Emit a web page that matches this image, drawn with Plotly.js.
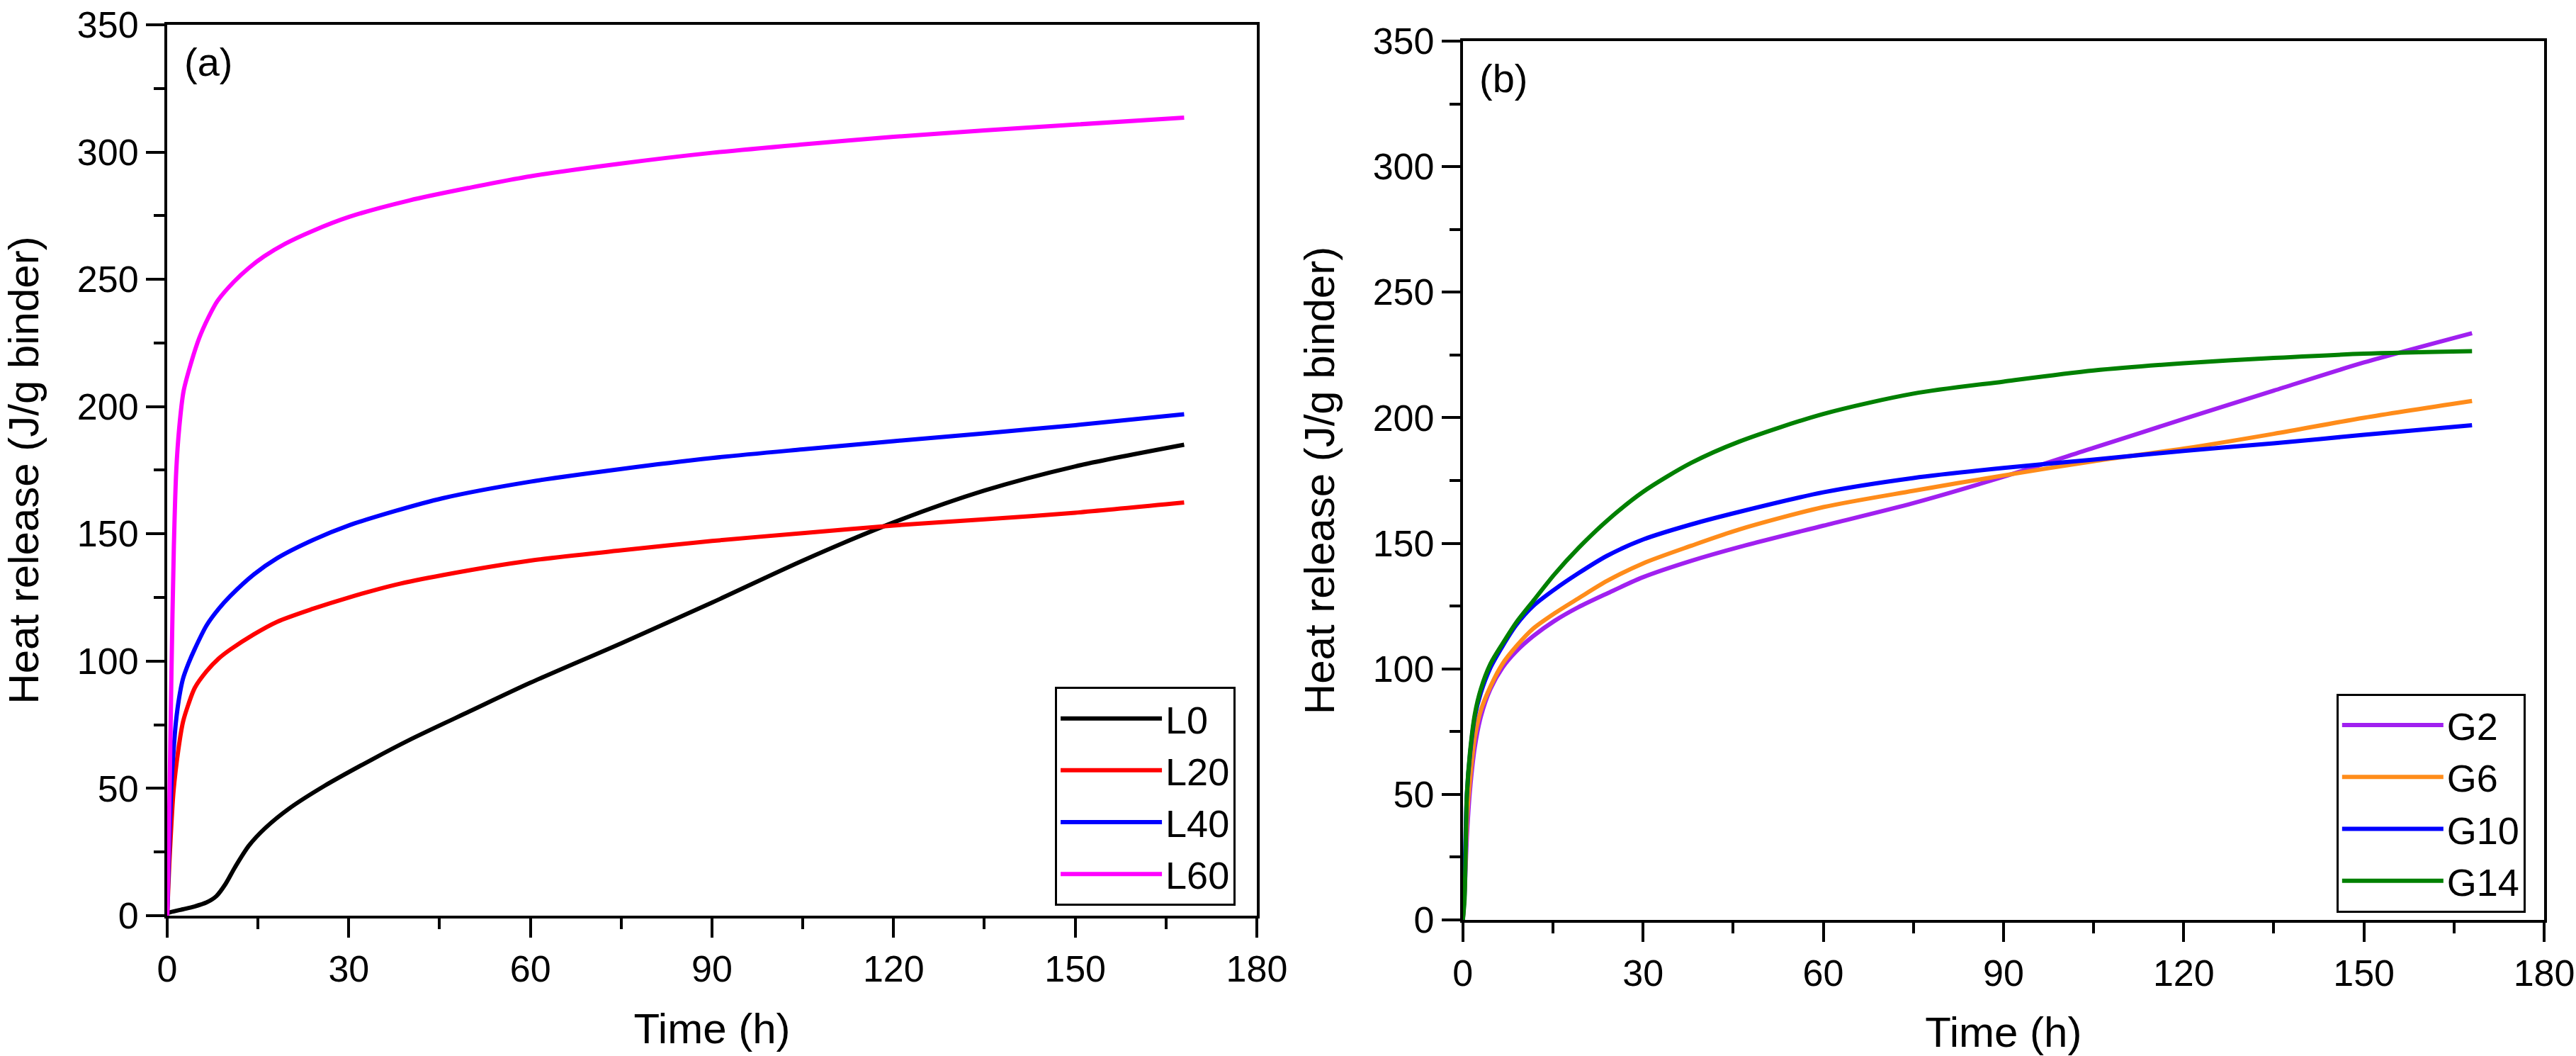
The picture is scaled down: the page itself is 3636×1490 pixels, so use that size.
<!DOCTYPE html>
<html>
<head>
<meta charset="utf-8">
<script src="https://cdn.plot.ly/plotly-3.0.1.min.js"></script>
<style>
  html, body { margin: 0; padding: 0; background: #fff; }
  #plot { width: 3636px; height: 1490px; }
</style>
</head>
<body>
<div id="plot"></div>
<script>
// Heat release curves (time in h, heat in J/g binder).

// Panel (a)
const tL0  = [0, 1, 2.6, 4.5, 6.5, 8.1, 9.6, 11.2, 13.5, 16.2, 20.1, 26, 33.8, 40, 50, 60, 75, 90, 105, 120, 135, 150, 168];
const vL0  = [1, 1.6, 2.5, 3.6, 5.2, 7.6, 12.3, 19, 27.5, 34.4, 42, 51, 61.3, 69, 80.3, 91.5, 107, 123, 139.5, 154.5, 167, 176.5, 185];

const tL20 = [0, 0.2, 0.47, 1.05, 1.83, 2.6, 3.5, 4.56, 6.5, 8.5, 10.4, 14.3, 18.2, 24, 30, 37.7, 45.5, 60, 75, 90, 105, 120, 135, 150, 168];
const vL20 = [0, 12, 26, 49, 65, 76, 83, 89.5, 96, 101, 104.5, 110.5, 115.5, 120.5, 125, 130, 133.8, 139.5, 143.5, 147.2, 150.3, 153.3, 155.7, 158.3, 162.3];

const tL40 = [0, 0.3, 0.66, 1.0, 1.44, 2, 2.6, 3.5, 4.6, 6.5, 8.5, 10.4, 14.3, 18.2, 24, 30, 37.7, 45.5, 60, 75, 90, 105, 120, 135, 150, 168];
const vL40 = [0, 25, 50, 63, 76, 86, 93, 99, 105, 114, 120.5, 125.5, 134, 140.5, 147.5, 153.3, 159, 164, 170.5, 175.5, 179.8, 183.2, 186.4, 189.5, 192.7, 197];

const tL60 = [0, 0.3, 0.7, 1.1, 1.5, 2, 2.7, 3.8, 5.3, 6.8, 8.3, 11, 13.5, 16, 19.5, 24, 30, 40, 50, 60, 75, 90, 105, 120, 135, 150, 168];
const vL60 = [0, 35, 95, 145, 175, 192, 206, 216, 227, 235, 241.5, 249, 254.5, 259, 264, 269, 274.5, 281, 286, 290.5, 295.5, 299.7, 303, 306, 308.5, 310.8, 313.5];

// Panel (b)
const tG   = [0, 0.28, 0.67, 1.2, 2, 3, 4.6, 6.6, 8.9, 11.7, 15.2, 19.2, 24, 30, 38, 46, 60, 75, 90, 105, 120, 135, 150, 168];
const vG2  = [0, 10, 33, 52, 69, 81, 92, 100.5, 107, 113, 119, 124.5, 130, 136.5, 143, 148.5, 157, 166, 176.5, 188, 199.5, 210.8, 222, 233.7];
const vG6  = [0, 12, 40, 56, 73, 83.5, 93, 102, 109, 116, 122, 128, 135, 142, 149, 155.5, 164.4, 170.9, 177, 182.7, 187.7, 193.6, 200, 206.7];
const vG10 = [0, 17, 50, 66, 81, 90.5, 100.5, 109, 117.5, 125, 131.5, 138, 145, 151.5, 157.5, 162.5, 170.3, 176, 180, 183.3, 186.8, 189.8, 193.2, 197];
const vG14 = [0, 8, 50, 67, 82, 92, 102, 110, 118.5, 127, 137.5, 148, 159, 170.5, 182, 190.5, 201.5, 209.6, 214.4, 218.8, 221.7, 223.8, 225.5, 226.5];

const FONT = 'Liberation Sans, Arial, sans-serif';

function curve(x, y, name, color, xa, ya, legend) {
	return {
		x: x,
		y: y,
		name: name,
		mode: 'lines',
		line: { color: color, width: 6, shape: 'spline', smoothing: 0.8 },
		xaxis: xa,
		yaxis: ya,
		legend: legend
	};
}

const data = [
	curve(tL0,  vL0,  'L0',  '#000000', 'x', 'y', 'legend'),
	curve(tL20, vL20, 'L20', '#ff0000', 'x', 'y', 'legend'),
	curve(tL40, vL40, 'L40', '#0000ff', 'x', 'y', 'legend'),
	curve(tL60, vL60, 'L60', '#ff00ff', 'x', 'y', 'legend'),
	curve(tG, vG2,  'G2',  '#a020f0', 'x2', 'y2', 'legend2'),
	curve(tG, vG6,  'G6',  '#ff8c1a', 'x2', 'y2', 'legend2'),
	curve(tG, vG10, 'G10', '#0000ff', 'x2', 'y2', 'legend2'),
	curve(tG, vG14, 'G14', '#008000', 'x2', 'y2', 'legend2')
];

function xAxis(domain, anchor) {
	return {
		domain: domain,
		anchor: anchor,
		range: [0, 180],
		tick0: 0,
		dtick: 30,
		ticks: 'outside',
		ticklen: 27,
		tickwidth: 4,
		tickcolor: '#000',
		minor: { dtick: 15, ticks: 'outside', ticklen: 15, tickwidth: 4, tickcolor: '#000' },
		showline: true,
		linewidth: 4,
		linecolor: '#000',
		mirror: true,
		showgrid: false,
		zeroline: false,
		tickfont: { family: FONT, size: 52, color: '#000' },
		title: { text: 'Time (h)', standoff: 36, font: { family: FONT, size: 60, color: '#000' } }
	};
}

function yAxis(domain, anchor) {
	return {
		domain: domain,
		anchor: anchor,
		range: [0, 350],
		tick0: 0,
		dtick: 50,
		ticks: 'outside',
		ticklen: 26,
		tickwidth: 4,
		tickcolor: '#000',
		minor: { dtick: 25, ticks: 'outside', ticklen: 15, tickwidth: 4, tickcolor: '#000' },
		showline: true,
		linewidth: 4,
		linecolor: '#000',
		mirror: true,
		showgrid: false,
		zeroline: false,
		tickfont: { family: FONT, size: 52, color: '#000' },
		title: { text: 'Heat release (J/g binder)', standoff: 36, font: { family: FONT, size: 60, color: '#000' } }
	};
}

function legendBox(x, y) {
	return {
		x: x,
		y: y,
		xanchor: 'right',
		yanchor: 'bottom',
		bgcolor: '#fff',
		bordercolor: '#000',
		borderwidth: 3,
		itemwidth: 143,
		tracegroupgap: 0,
		font: { family: FONT, size: 54, color: '#000' }
	};
}

const layout = {
	width: 3636,
	height: 1490,
	margin: { l: 236, r: 45, t: 35, b: 192 },
	paper_bgcolor: '#fff',
	plot_bgcolor: '#fff',
	font: { family: FONT, color: '#000' },
	xaxis: xAxis([0, 0.4584], 'y'),
	yaxis: yAxis([0.0048, 1], 'x'),
	xaxis2: xAxis([0.5451, 1], 'y2'),
	yaxis2: yAxis([0, 0.9818], 'x2'),
	legend: legendBox(0.4495, 0.0158),
	legend2: legendBox(0.9922, 0.0083),
	annotations: [
		{ text: '(a)', xref: 'x domain', yref: 'y domain', x: 0.014, y: 0.958, xanchor: 'left', yanchor: 'middle', showarrow: false, font: { family: FONT, size: 56, color: '#000' } },
		{ text: '(b)', xref: 'x2 domain', yref: 'y2 domain', x: 0.014, y: 0.958, xanchor: 'left', yanchor: 'middle', showarrow: false, font: { family: FONT, size: 56, color: '#000' } }
	]
};

Plotly.newPlot('plot', data, layout, { staticPlot: true });
</script>
</body>
</html>
